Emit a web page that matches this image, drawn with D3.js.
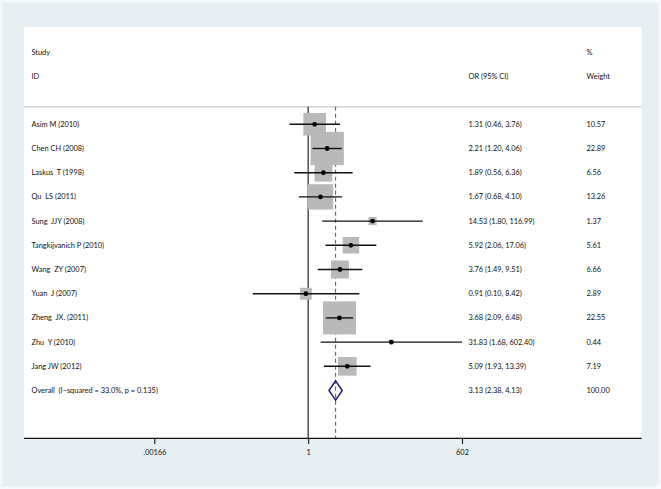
<!DOCTYPE html>
<html><head><meta charset="utf-8">
<script src="https://cdn.jsdelivr.net/npm/d3@7"></script>
<style>
html,body{margin:0;padding:0;background:#f6f9fa;}
svg{display:block;}
text{font-family:Lato,"Open Sans",sans-serif;font-size:7.4px;fill:#111;white-space:pre;}
</style></head>
<body>
<svg id="c" width="661" height="489"></svg>
<script>
const studies = ["Asim M (2010)", "Chen CH (2008)", "Laskus  T (1998)", "Qu  LS (2011)", "Sung  JJY (2008)", "Tangkijvanich P (2010)", "Wang  ZY (2007)", "Yuan  J (2007)", "Zheng  JX. (2011)", "Zhu  Y (2010)", "Jang JW (2012)"];
const orValues = [1.31, 2.21, 1.89, 1.67, 14.53, 5.92, 3.76, 0.91, 3.68, 31.83, 5.09];
const ciLower = [0.46, 1.20, 0.56, 0.68, 1.80, 2.06, 1.49, 0.10, 2.09, 1.68, 1.93];
const ciUpper = [3.76, 4.06, 6.36, 4.10, 116.99, 17.06, 9.51, 8.42, 6.48, 602.40, 13.39];
const weights = [10.57, 22.89, 6.56, 13.26, 1.37, 5.61, 6.66, 2.89, 22.55, 0.44, 7.19];
const overallLabel = "Overall  (I\u2212squared = 33.0%, p = 0.135)";
const overall = {or: 3.13, lo: 2.38, hi: 4.13, weight: 100.00};
const tickValues = [0.00166, 1, 602];
const tickLabels = [".00166", "1", "602"];

const svg = d3.select("#c");
// background
svg.append("rect").attr("x",2.5).attr("y",2.5).attr("width",656).attr("height",484).attr("fill","#e8eff2");
const panel = {x0:24, x1:641.7, y0:27, y1:438.3};
svg.append("rect").attr("x",panel.x0).attr("y",panel.y0).attr("width",panel.x1-panel.x0).attr("height",panel.y1-panel.y0).attr("fill","#ffffff");

const x = d3.scaleLog().domain([0.00166, 602]).range([154.3, 462]);
const rows = studies.map((s,i)=>({name:s, or:orValues[i], lo:ciLower[i], hi:ciUpper[i], w:weights[i]}));
const y = d3.scaleLinear().domain([0, 11]).range([124.3, 390.5]);
const boxK = 6.96;
const headerY = 106.7;

// header texts
const tx0 = 31.5, txOR = 468.5, txW = 586.5;
function label(xp, yp, t){ return svg.append("text").attr("x",xp).attr("y",yp).attr("dy","0.35em").text(t); }
label(tx0, 52, "Study");
label(tx0, 76.5, "ID");
label(txOR, 76.5, "OR (95% CI)");
label(txW, 52, "%");
label(txW, 76.5, "Weight");

// header rule
svg.append("line").attr("x1",panel.x0).attr("x2",panel.x1).attr("y1",headerY).attr("y2",headerY)
  .attr("stroke","#cfd3d4").attr("stroke-width",1.6);

// null line
svg.append("line").attr("x1",x(1)).attr("x2",x(1)).attr("y1",headerY).attr("y2",panel.y1)
  .attr("stroke","#111").attr("stroke-width",1.1);
// overall dashed line
svg.append("line").attr("x1",x(overall.or)).attr("x2",x(overall.or)).attr("y1",headerY).attr("y2",panel.y1)
  .attr("stroke","#9b4a63").attr("stroke-width",1.1).attr("stroke-dasharray","4,3");

// boxes
svg.append("g").selectAll("rect").data(rows).join("rect")
  .attr("x",d=>x(d.or)-boxK*Math.sqrt(d.w)/2)
  .attr("y",(d,i)=>y(i)-boxK*Math.sqrt(d.w)/2)
  .attr("width",d=>boxK*Math.sqrt(d.w))
  .attr("height",d=>boxK*Math.sqrt(d.w))
  .attr("fill","#b9b9b9");

// CI lines
svg.append("g").selectAll("line").data(rows).join("line")
  .attr("x1",d=>x(d.lo)).attr("x2",d=>x(d.hi))
  .attr("y1",(d,i)=>y(i)).attr("y2",(d,i)=>y(i))
  .attr("stroke","#111").attr("stroke-width",1.4);

// point estimates
svg.append("g").selectAll("circle").data(rows).join("circle")
  .attr("cx",d=>x(d.or)).attr("cy",(d,i)=>y(i)).attr("r",2.4).attr("fill","#000");

// overall diamond
const oy = y(11), dh = 9.7;
svg.append("path")
  .attr("d",`M${x(overall.lo)},${oy}L${x(overall.or)},${oy-dh}L${x(overall.hi)},${oy}L${x(overall.or)},${oy+dh}Z`)
  .attr("fill","none").attr("stroke","#1f1f6b").attr("stroke-width",1.5);

// row labels
const fmt = d3.format(".2f");
rows.forEach((d,i)=>{
  label(tx0, y(i), d.name);
  label(txOR, y(i), `${fmt(d.or)} (${fmt(d.lo)}, ${fmt(d.hi)})`);
  label(txW, y(i), fmt(d.w));
});
label(tx0, y(11), overallLabel);
label(txOR, y(11), `${fmt(overall.or)} (${fmt(overall.lo)}, ${fmt(overall.hi)})`);
label(txW, y(11), fmt(overall.weight));

// axis
const axis = d3.axisBottom(x).tickValues(tickValues).tickFormat((d,i)=>tickLabels[i]).tickSize(5.7).tickPadding(6);
const ag = svg.append("g").attr("transform",`translate(0,${panel.y1})`).call(axis);
ag.select(".domain").remove();
ag.selectAll(".tick line").attr("stroke","#111").attr("stroke-width",1.1);
ag.selectAll(".tick text").attr("font-family","Lato, 'Open Sans', sans-serif").attr("font-size","7.4px").attr("fill","#111");
svg.append("line").attr("x1",panel.x0).attr("x2",panel.x1).attr("y1",panel.y1).attr("y2",panel.y1)
  .attr("stroke","#111").attr("stroke-width",1.2);
</script>
</body></html>
